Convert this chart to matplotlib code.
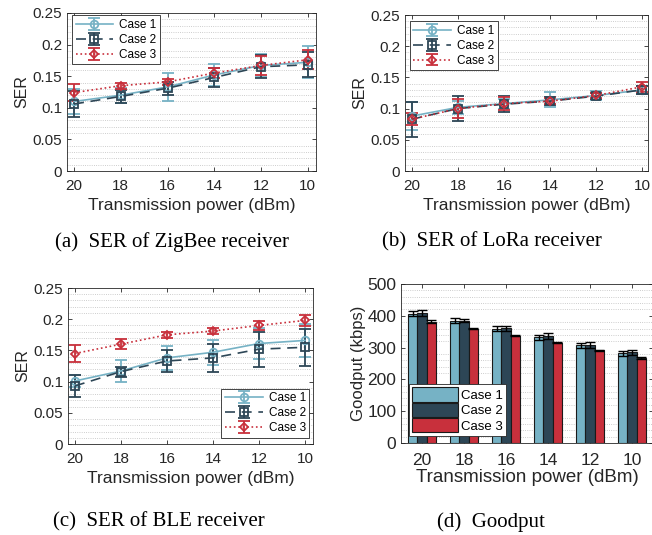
import numpy as np
import matplotlib
matplotlib.use("Agg")
import matplotlib.pyplot as plt
from matplotlib.ticker import MultipleLocator

plt.rcParams["font.family"] = ["Liberation Sans", "DejaVu Sans"]

# transmission power levels (dBm)
power = [20, 18, 16, 14, 12, 10]
cases = ["Case 1", "Case 2", "Case 3"]

# (a) ZigBee SER: mean and error half-width per case
zig_mean = [[0.110, 0.120, 0.133, 0.152, 0.167, 0.172],
            [0.106, 0.118, 0.131, 0.148, 0.165, 0.168],
            [0.124, 0.135, 0.141, 0.155, 0.167, 0.176]]
zig_err = [[0.020, 0.012, 0.022, 0.018, 0.018, 0.025],
           [0.020, 0.010, 0.010, 0.015, 0.018, 0.020],
           [0.013, 0.005, 0.005, 0.008, 0.015, 0.015]]

# (b) LoRa SER
lora_mean = [[0.088, 0.102, 0.108, 0.114, 0.121, 0.130],
             [0.083, 0.100, 0.107, 0.112, 0.120, 0.130],
             [0.083, 0.100, 0.108, 0.112, 0.121, 0.135]]
lora_err = [[0.022, 0.010, 0.008, 0.012, 0.008, 0.007],
            [0.028, 0.020, 0.013, 0.006, 0.005, 0.006],
            [0.010, 0.015, 0.010, 0.005, 0.004, 0.008]]

# (c) BLE SER
ble_mean = [[0.101, 0.117, 0.138, 0.147, 0.161, 0.166],
            [0.093, 0.116, 0.133, 0.138, 0.152, 0.155],
            [0.145, 0.160, 0.175, 0.181, 0.190, 0.198]]
ble_err = [[0.010, 0.017, 0.019, 0.020, 0.025, 0.027],
           [0.018, 0.008, 0.017, 0.023, 0.028, 0.030],
           [0.014, 0.008, 0.005, 0.005, 0.007, 0.009]]

# (d) Goodput (kbps)
good_mean = [[407, 384, 359, 333, 307, 282],
             [409, 385, 361, 336, 309, 285],
             [382, 360, 338, 316, 291, 267]]
good_err = [[8, 8, 8, 8, 8, 8],
            [9, 4, 8, 9, 9, 9],
            [5, 2, 2, 2, 2, 3]]

colors = ["#76b2c5", "#2d4656", "#c8303c"]
styles = ["-", (0, (6, 4)), ":"]
markers = ["o", "s", "D"]
msizes = [5.5, 5.5, 4.5]
text_col = "#262626"

W, H = 652, 535
fig = plt.figure(figsize=(W / 100, H / 100), dpi=100)


def px_axes(l, t, r, b):
    return fig.add_axes([l / W, 1 - b / H, (r - l) / W, (b - t) / H])


def style_axes(ax, minor_step, tsize):
    ax.tick_params(direction="in", top=True, right=True, labelsize=tsize,
                   length=3, width=0.6, colors=text_col)
    ax.tick_params(axis="x", pad=6)
    ax.tick_params(which="minor", length=0)
    ax.yaxis.set_minor_locator(MultipleLocator(minor_step))
    ax.grid(True, which="minor", axis="y", linestyle=":", color="#bdbdbd", linewidth=0.6)
    for s in ax.spines.values():
        s.set_color(text_col)
        s.set_linewidth(0.6)
    ax.set_axisbelow(True)


def ser_panel(ax, mean, err, xlim, legend_loc, legend_bbox):
    for i in range(3):
        ax.errorbar(power, mean[i], yerr=err[i], color=colors[i], linestyle=styles[i],
                    marker=markers[i], markersize=msizes[i], markerfacecolor="none",
                    markeredgewidth=1.3, linewidth=1.2, capsize=4, elinewidth=1.3,
                    capthick=1.3, label=cases[i])
    ax.set_xlim(*xlim)
    ax.set_ylim(0, 0.25)
    ax.set_xticks(power)
    ax.set_yticks([0, 0.05, 0.1, 0.15, 0.2, 0.25])
    ax.set_yticklabels(["0", "0.05", "0.1", "0.15", "0.2", "0.25"])
    style_axes(ax, 0.01, 11)
    ax.set_xlabel("Transmission power (dBm)", fontsize=12.5, color=text_col, labelpad=3)
    ax.set_ylabel("SER", fontsize=11.5, color=text_col, labelpad=2)
    leg = ax.legend(loc=legend_loc, bbox_to_anchor=legend_bbox, fontsize=8.5, fancybox=False,
                    edgecolor=text_col, framealpha=1, handlelength=3.2, borderpad=0.3,
                    labelspacing=0.25, handletextpad=0.5, borderaxespad=0)
    leg.get_frame().set_linewidth(0.6)


ax_a = px_axes(67, 13, 316, 171)
ser_panel(ax_a, zig_mean, zig_err, (20.3, 9.65), "upper left", (0.02, 0.985))

ax_b = px_axes(405, 15, 648, 171)
ser_panel(ax_b, lora_mean, lora_err, (20.3, 9.75), "upper left", (0.02, 0.96))

ax_c = px_axes(68, 288, 313, 444)
ser_panel(ax_c, ble_mean, ble_err, (20.3, 9.65), "lower right", (0.985, 0.04))

# (d) grouped bars
ax_d = px_axes(401, 284, 653, 443)
x = np.arange(len(power))
bw = 0.22
for i in range(3):
    ax_d.bar(x + (i - 1) * bw, good_mean[i], bw, yerr=good_err[i], color=colors[i],
             edgecolor="#1a1a1a", linewidth=0.8, label=cases[i],
             error_kw=dict(ecolor="black", elinewidth=1.0, capsize=3.5, capthick=1.0))
ax_d.set_xlim(-0.5, 5.5)
ax_d.set_ylim(0, 500)
ax_d.set_xticks(x)
ax_d.set_xticklabels([str(p) for p in power])
ax_d.set_yticks([0, 100, 200, 300, 400, 500])
style_axes(ax_d, 20, 12.5)
ax_d.tick_params(axis="x", pad=7)
ax_d.set_xlabel("Transmission power (dBm)", fontsize=13.5, color=text_col, labelpad=1)
ax_d.set_ylabel("Goodput (kbps)", fontsize=12, color=text_col, labelpad=1)
leg = ax_d.legend(loc="lower left", bbox_to_anchor=(0.03, 0.045), fontsize=9.5, fancybox=False,
                  edgecolor=text_col, framealpha=1, handlelength=3.5, handleheight=1.3,
                  borderpad=0.25, labelspacing=0.05, handletextpad=0.2, borderaxespad=0)
leg.get_frame().set_linewidth(0.6)

# captions
cap_kw = dict(ha="center", va="center", fontsize=15, family=["Liberation Serif", "DejaVu Serif"])
fig.text(172 / W, 1 - 242 / H, "(a)  SER of ZigBee receiver", **cap_kw)
fig.text(492 / W, 1 - 242 / H, "(b)  SER of LoRa receiver", **cap_kw)
fig.text(159 / W, 1 - 522 / H, "(c)  SER of BLE receiver", **cap_kw)
fig.text(491 / W, 1 - 522 / H, "(d)  Goodput", **cap_kw)

fig.savefig("out.png", dpi=100)
